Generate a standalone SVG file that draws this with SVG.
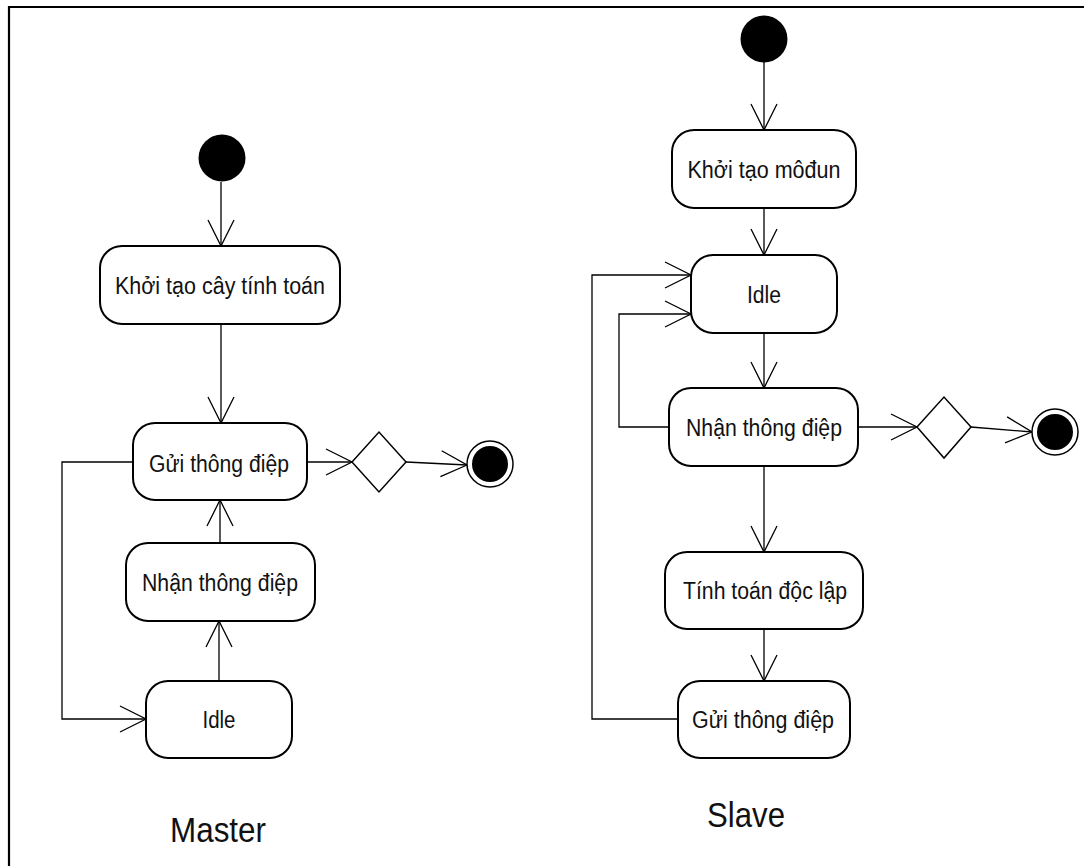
<svg xmlns="http://www.w3.org/2000/svg" width="1084" height="866" viewBox="0 0 1084 866">
  <style>
    .act { fill: #fff; stroke: #000; stroke-width: 2; }
    .lbl { font-family: "Liberation Sans", Arial, sans-serif; font-size: 23px; fill: #111; text-anchor: middle; }
    .title { font-family: "Liberation Sans", Arial, sans-serif; font-size: 35px; fill: #111; text-anchor: middle; }
    .flow { fill: none; stroke: #000; stroke-width: 1.3; }
    .flow-a { fill: none; stroke: #000; stroke-width: 1.3; marker-end: url(#open); }
    .start { fill: #000; }
    .dec { fill: #fff; stroke: #000; stroke-width: 1.5; }
  </style>
  <defs>
    <marker id="open" markerUnits="userSpaceOnUse" markerWidth="30" markerHeight="30" refX="0" refY="0" viewBox="-28 -15 30 30" orient="auto">
      <path d="M-26,-13 L0,0 L-26,13" fill="none" stroke="#000" stroke-width="1.3"/>
    </marker>
  </defs>

  <rect width="1084" height="866" fill="#fff"/>
  <!-- frame -->
  <path d="M9,866 V7 H1084" fill="none" stroke="#000" stroke-width="2.2"/>

  <!-- connectors -->
  <g id="connectors">
    <!-- Master -->
    <line class="flow-a" x1="221" y1="182" x2="221" y2="246"/>
    <line class="flow-a" x1="221" y1="324" x2="221" y2="423"/>
    <line class="flow-a" x1="307" y1="462" x2="352" y2="462"/>
    <line class="flow-a" x1="406" y1="462" x2="467" y2="465"/>
    <line class="flow-a" x1="220" y1="543" x2="220" y2="500"/>
    <line class="flow-a" x1="219" y1="681" x2="219" y2="621"/>
    <polyline class="flow-a" points="133,462 62,462 62,719 146,719"/>
    <!-- Slave -->
    <line class="flow-a" x1="764" y1="62" x2="764" y2="130"/>
    <line class="flow-a" x1="764" y1="208" x2="764" y2="255"/>
    <line class="flow-a" x1="764" y1="333" x2="764" y2="388"/>
    <line class="flow-a" x1="858" y1="427" x2="917" y2="427"/>
    <line class="flow-a" x1="971" y1="427" x2="1032" y2="432"/>
    <line class="flow-a" x1="764" y1="466" x2="764" y2="552"/>
    <line class="flow-a" x1="764" y1="629" x2="764" y2="681"/>
    <polyline class="flow-a" points="669,427 619,427 619,314 691,314"/>
    <polyline class="flow-a" points="678,719 592,719 592,275 691,275"/>
  </g>

  <!-- Master -->
  <g id="m-start"><circle class="start" cx="222" cy="158" r="23.5"/></g>
  <g id="m-init">
    <rect class="act" x="100" y="246" width="240" height="78" rx="22"/>
    <text class="lbl" x="220" y="294" textLength="210" lengthAdjust="spacingAndGlyphs">Khởi tạo cây tính toán</text>
  </g>
  <g id="m-send">
    <rect class="act" x="133" y="423" width="174" height="77" rx="22"/>
    <text class="lbl" x="219" y="472" textLength="140" lengthAdjust="spacingAndGlyphs">Gửi thông điệp</text>
  </g>
  <g id="m-decision"><polygon class="dec" points="352,462 379,432 406,462 379,492"/></g>
  <g id="m-end">
    <circle cx="490" cy="464" r="23" fill="#fff" stroke="#000" stroke-width="1.5"/>
    <circle cx="490" cy="464" r="18" fill="#000"/>
  </g>
  <g id="m-recv">
    <rect class="act" x="126" y="543" width="189" height="78" rx="22"/>
    <text class="lbl" x="220" y="591" textLength="156" lengthAdjust="spacingAndGlyphs">Nhận thông điệp</text>
  </g>
  <g id="m-idle">
    <rect class="act" x="146" y="681" width="146" height="77" rx="22"/>
    <text class="lbl" x="219" y="728" textLength="33" lengthAdjust="spacingAndGlyphs">Idle</text>
  </g>
  <text class="title" x="218" y="842" textLength="96" lengthAdjust="spacingAndGlyphs">Master</text>

  <!-- Slave -->
  <g id="s-start"><circle class="start" cx="764" cy="39" r="23.5"/></g>
  <g id="s-init">
    <rect class="act" x="672" y="130" width="184" height="78" rx="22"/>
    <text class="lbl" x="764" y="178" textLength="153" lengthAdjust="spacingAndGlyphs">Khởi tạo môđun</text>
  </g>
  <g id="s-idle">
    <rect class="act" x="691" y="255" width="146" height="78" rx="22"/>
    <text class="lbl" x="764" y="303" textLength="34" lengthAdjust="spacingAndGlyphs">Idle</text>
  </g>
  <g id="s-recv">
    <rect class="act" x="669" y="388" width="189" height="78" rx="22"/>
    <text class="lbl" x="764" y="436" textLength="156" lengthAdjust="spacingAndGlyphs">Nhận thông điệp</text>
  </g>
  <g id="s-decision"><polygon class="dec" points="917,427 944,397 971,427 944,458"/></g>
  <g id="s-end">
    <circle cx="1055" cy="432" r="23" fill="#fff" stroke="#000" stroke-width="1.5"/>
    <circle cx="1055" cy="432" r="18" fill="#000"/>
  </g>
  <g id="s-compute">
    <rect class="act" x="665" y="552" width="198" height="77" rx="22"/>
    <text class="lbl" x="765" y="599" textLength="164" lengthAdjust="spacingAndGlyphs">Tính toán độc lập</text>
  </g>
  <g id="s-send">
    <rect class="act" x="678" y="681" width="172" height="77" rx="22"/>
    <text class="lbl" x="763" y="728" textLength="142" lengthAdjust="spacingAndGlyphs">Gửi thông điệp</text>
  </g>
  <text class="title" x="746" y="827" textLength="78" lengthAdjust="spacingAndGlyphs">Slave</text>
</svg>
